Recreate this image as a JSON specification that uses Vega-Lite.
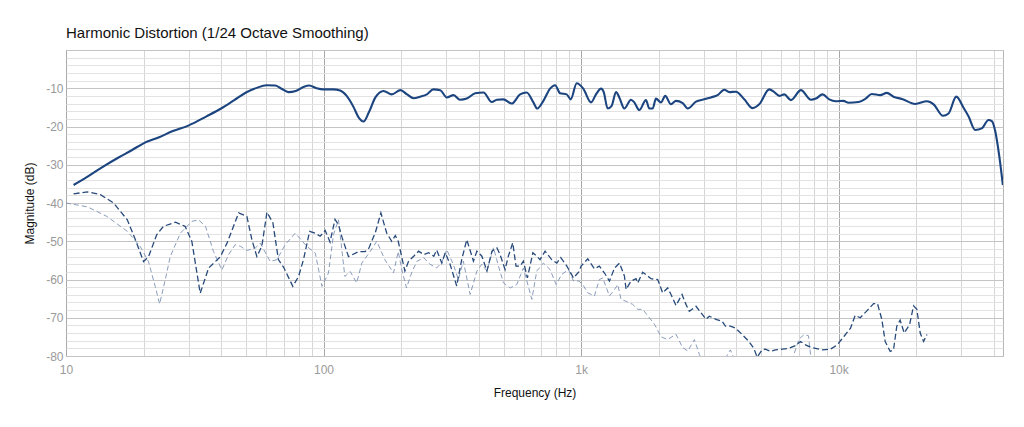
{
  "$schema": "https://vega.github.io/schema/vega-lite/v6.json",
  "autosize": {"type": "none"},
  "padding": {"left": 66, "top": 50, "right": 21, "bottom": 71},
  "width": 937,
  "height": 306,
  "title": {
    "text": "Harmonic Distortion (1/24 Octave Smoothing)",
    "anchor": "start",
    "frame": "group",
    "font": "Liberation Sans",
    "fontSize": 15,
    "fontWeight": "normal",
    "color": "#111111",
    "offset": 3
  },
  "config": {
    "view": {"stroke": "#b5b5b5", "strokeWidth": 1},
    "font": "Liberation Sans"
  },
  "datasets": {
    "fund": [
      {"f": 10.7, "db": -35.3}, {"f": 12, "db": -33.3}, {"f": 14, "db": -30.4}, {"f": 16, "db": -28.1},
      {"f": 18, "db": -26.2}, {"f": 20, "db": -24.4}, {"f": 23, "db": -22.8}, {"f": 26, "db": -21.2},
      {"f": 30, "db": -19.7}, {"f": 35, "db": -17.4}, {"f": 40, "db": -15.3}, {"f": 45, "db": -13.1},
      {"f": 50, "db": -11.1}, {"f": 55, "db": -9.9}, {"f": 60, "db": -9.2}, {"f": 65, "db": -9.3},
      {"f": 69, "db": -10.2}, {"f": 73, "db": -11.0}, {"f": 78, "db": -10.7}, {"f": 84, "db": -9.6},
      {"f": 88, "db": -9.3}, {"f": 94, "db": -10.0}, {"f": 100, "db": -10.3}, {"f": 109, "db": -10.3},
      {"f": 116, "db": -10.6}, {"f": 123, "db": -12}, {"f": 131, "db": -15}, {"f": 137, "db": -17.7},
      {"f": 143, "db": -18.7}, {"f": 150, "db": -16.3}, {"f": 159, "db": -12.4}, {"f": 171, "db": -10.7},
      {"f": 184, "db": -11.6}, {"f": 199, "db": -10.5}, {"f": 211, "db": -11.6}, {"f": 224, "db": -12.6},
      {"f": 237, "db": -12.2}, {"f": 252, "db": -11.6}, {"f": 267, "db": -10.3}, {"f": 284, "db": -10.5},
      {"f": 301, "db": -12.4}, {"f": 320, "db": -11.8}, {"f": 339, "db": -13}, {"f": 360, "db": -12.7},
      {"f": 388, "db": -11.3}, {"f": 418, "db": -11.1}, {"f": 450, "db": -13.6}, {"f": 471, "db": -13},
      {"f": 499, "db": -12.9}, {"f": 538, "db": -14}, {"f": 580, "db": -11.6}, {"f": 615, "db": -11.1},
      {"f": 653, "db": -13.7}, {"f": 676, "db": -15.3}, {"f": 714, "db": -13.3}, {"f": 758, "db": -10.1},
      {"f": 793, "db": -9.2}, {"f": 829, "db": -11.3}, {"f": 879, "db": -11.6}, {"f": 912, "db": -12.9},
      {"f": 962, "db": -8.7}, {"f": 1020, "db": -10.1}, {"f": 1094, "db": -13.7}, {"f": 1143, "db": -11.6},
      {"f": 1196, "db": -10.1}, {"f": 1225, "db": -11}, {"f": 1268, "db": -15.3}, {"f": 1315, "db": -14.6},
      {"f": 1367, "db": -11}, {"f": 1408, "db": -12.4}, {"f": 1472, "db": -15.3}, {"f": 1563, "db": -13},
      {"f": 1610, "db": -13.7}, {"f": 1683, "db": -15.7}, {"f": 1786, "db": -13.1}, {"f": 1841, "db": -15.3},
      {"f": 1897, "db": -15.3}, {"f": 1954, "db": -12.7}, {"f": 2043, "db": -13.7}, {"f": 2123, "db": -12},
      {"f": 2234, "db": -14.2}, {"f": 2337, "db": -13.3}, {"f": 2481, "db": -13.9}, {"f": 2596, "db": -15.3},
      {"f": 2795, "db": -13.5}, {"f": 3010, "db": -12.9}, {"f": 3194, "db": -12.4}, {"f": 3392, "db": -11.8},
      {"f": 3600, "db": -10.4}, {"f": 3765, "db": -11}, {"f": 3993, "db": -10.9}, {"f": 4303, "db": -12.9},
      {"f": 4637, "db": -15.2}, {"f": 4920, "db": -14.2}, {"f": 5381, "db": -10.3}, {"f": 5627, "db": -11},
      {"f": 5888, "db": -12}, {"f": 6152, "db": -11.6}, {"f": 6530, "db": -13.1}, {"f": 7142, "db": -10.5},
      {"f": 7806, "db": -13}, {"f": 8165, "db": -12.7}, {"f": 8664, "db": -11.6}, {"f": 9197, "db": -12.9},
      {"f": 9754, "db": -13.4}, {"f": 10450, "db": -13.3}, {"f": 10930, "db": -13.8}, {"f": 11960, "db": -13.6},
      {"f": 12690, "db": -12.8}, {"f": 13460, "db": -11.5}, {"f": 14510, "db": -11.8}, {"f": 15400, "db": -11.2},
      {"f": 16340, "db": -12.2}, {"f": 17620, "db": -12.8}, {"f": 19850, "db": -14.1}, {"f": 22040, "db": -13.4},
      {"f": 23390, "db": -14.2}, {"f": 25430, "db": -17.2}, {"f": 26730, "db": -16.6}, {"f": 28640, "db": -12.2},
      {"f": 30570, "db": -15.1}, {"f": 31990, "db": -17.4}, {"f": 33920, "db": -20.9}, {"f": 35980, "db": -20.5},
      {"f": 38210, "db": -18.3}, {"f": 39360, "db": -18.6}, {"f": 40550, "db": -21.1}, {"f": 42050, "db": -27.6},
      {"f": 43450, "db": -35.3}
    ],
    "h2": [
      {"f": 10.7, "db": -37.6}, {"f": 12.1, "db": -37.1}, {"f": 13.6, "db": -37.8}, {"f": 15.3, "db": -40},
      {"f": 17.3, "db": -44.4}, {"f": 18.6, "db": -49.6}, {"f": 20, "db": -55.3}, {"f": 20.9, "db": -54.1},
      {"f": 22.5, "db": -48.3}, {"f": 23.9, "db": -46.1}, {"f": 26.6, "db": -45}, {"f": 29, "db": -46.1},
      {"f": 30.8, "db": -50}, {"f": 33.2, "db": -63.6}, {"f": 35.8, "db": -57}, {"f": 39.7, "db": -54.1},
      {"f": 42.2, "db": -50.5}, {"f": 46.8, "db": -42.6}, {"f": 50.4, "db": -43.5}, {"f": 52.7, "db": -49.6},
      {"f": 55.1, "db": -54}, {"f": 57.6, "db": -51.3}, {"f": 60.3, "db": -42.4}, {"f": 63.6, "db": -45.2},
      {"f": 66.8, "db": -54.8}, {"f": 70, "db": -56.8}, {"f": 76, "db": -61.8}, {"f": 80, "db": -59.2},
      {"f": 83.6, "db": -54.8}, {"f": 88.3, "db": -47.4}, {"f": 92.9, "db": -47.9}, {"f": 97, "db": -48.7},
      {"f": 101.5, "db": -47.2}, {"f": 106, "db": -50.2}, {"f": 110.8, "db": -44.3}, {"f": 114.4, "db": -45.7},
      {"f": 118, "db": -49}, {"f": 125, "db": -54}, {"f": 137, "db": -52.7}, {"f": 145, "db": -52.7},
      {"f": 150, "db": -51.8}, {"f": 159, "db": -47.7}, {"f": 167, "db": -42.6}, {"f": 176, "db": -47.9},
      {"f": 184, "db": -50}, {"f": 190, "db": -48.5}, {"f": 195, "db": -50}, {"f": 207, "db": -57.8},
      {"f": 214, "db": -55.2}, {"f": 224, "db": -53.9}, {"f": 234, "db": -52.6}, {"f": 245, "db": -53.5},
      {"f": 256, "db": -53}, {"f": 268, "db": -53.9}, {"f": 275, "db": -52.3}, {"f": 288, "db": -55.7},
      {"f": 297, "db": -53}, {"f": 310, "db": -56}, {"f": 329, "db": -61.7}, {"f": 344, "db": -54.8},
      {"f": 360, "db": -49.6}, {"f": 382, "db": -55.2}, {"f": 394, "db": -52.6}, {"f": 412, "db": -53.9},
      {"f": 431, "db": -57.8}, {"f": 451, "db": -52.6}, {"f": 471, "db": -51.7}, {"f": 485, "db": -53.5},
      {"f": 507, "db": -57.4}, {"f": 522, "db": -53.9}, {"f": 543, "db": -50.4}, {"f": 559, "db": -56.5},
      {"f": 580, "db": -56.5}, {"f": 597, "db": -55.2}, {"f": 619, "db": -59.6}, {"f": 650, "db": -53},
      {"f": 673, "db": -53.9}, {"f": 693, "db": -54.8}, {"f": 725, "db": -52.6}, {"f": 769, "db": -54.8},
      {"f": 805, "db": -55.7}, {"f": 834, "db": -54.3}, {"f": 881, "db": -56.5}, {"f": 935, "db": -59.6},
      {"f": 980, "db": -58}, {"f": 1000, "db": -56.5}, {"f": 1062, "db": -54.6}, {"f": 1127, "db": -57.2},
      {"f": 1178, "db": -56.5}, {"f": 1233, "db": -58.3}, {"f": 1289, "db": -60.4}, {"f": 1349, "db": -57},
      {"f": 1410, "db": -55.7}, {"f": 1474, "db": -59.1}, {"f": 1496, "db": -62.6}, {"f": 1564, "db": -60.4},
      {"f": 1635, "db": -59.8}, {"f": 1660, "db": -60.9}, {"f": 1735, "db": -58.1}, {"f": 1815, "db": -59.1},
      {"f": 1870, "db": -59.8}, {"f": 1985, "db": -60}, {"f": 2075, "db": -63.5}, {"f": 2170, "db": -62.2},
      {"f": 2235, "db": -63.9}, {"f": 2337, "db": -66.8}, {"f": 2467, "db": -63.9}, {"f": 2555, "db": -66.5},
      {"f": 2633, "db": -68.3}, {"f": 2795, "db": -67}, {"f": 2923, "db": -68.7}, {"f": 3055, "db": -70.4},
      {"f": 3148, "db": -69.6}, {"f": 3340, "db": -70.4}, {"f": 3530, "db": -70.9}, {"f": 3636, "db": -72.2},
      {"f": 3803, "db": -72.2}, {"f": 3980, "db": -72.7}, {"f": 4224, "db": -74.4}, {"f": 4483, "db": -76.2},
      {"f": 4688, "db": -78}, {"f": 4829, "db": -80.3}, {"f": 5048, "db": -78.4}, {"f": 5200, "db": -78.2},
      {"f": 5440, "db": -78.8}, {"f": 5690, "db": -78.4}, {"f": 6040, "db": -78.2}, {"f": 6410, "db": -78},
      {"f": 6800, "db": -77.3}, {"f": 7110, "db": -76.2}, {"f": 7440, "db": -77.1}, {"f": 7780, "db": -77.7},
      {"f": 8140, "db": -78}, {"f": 8640, "db": -78.4}, {"f": 9310, "db": -78.2}, {"f": 9880, "db": -77.1},
      {"f": 10490, "db": -74.9}, {"f": 11130, "db": -72.7}, {"f": 11600, "db": -69.4}, {"f": 12140, "db": -70},
      {"f": 12880, "db": -68.2}, {"f": 13680, "db": -66.3}, {"f": 14160, "db": -66.3}, {"f": 14720, "db": -70.4},
      {"f": 15170, "db": -76.2}, {"f": 15860, "db": -78.8}, {"f": 16340, "db": -78.4}, {"f": 16830, "db": -72.2},
      {"f": 17340, "db": -70.6}, {"f": 17980, "db": -74}, {"f": 18870, "db": -71.8}, {"f": 19550, "db": -66.9},
      {"f": 20140, "db": -67.8}, {"f": 20750, "db": -74}, {"f": 21380, "db": -76.2}, {"f": 22040, "db": -74.4}
    ],
    "h3": [
      {"f": 10, "db": -40}, {"f": 12.1, "db": -41}, {"f": 14.4, "db": -43.5}, {"f": 17.3, "db": -47.4},
      {"f": 19.4, "db": -51.3}, {"f": 20.9, "db": -55.3}, {"f": 22.2, "db": -61.8}, {"f": 23.1, "db": -66.4},
      {"f": 24.3, "db": -60}, {"f": 25.4, "db": -54}, {"f": 27.8, "db": -47.9}, {"f": 30.8, "db": -44.8},
      {"f": 32.7, "db": -44.4}, {"f": 34.8, "db": -46.1}, {"f": 37.4, "db": -52.7}, {"f": 40.3, "db": -57.5},
      {"f": 42.8, "db": -53.5}, {"f": 45.4, "db": -50.9}, {"f": 47.5, "db": -51.3}, {"f": 50.4, "db": -52.4},
      {"f": 54.3, "db": -51.8}, {"f": 56.8, "db": -50.5}, {"f": 62.1, "db": -55.3}, {"f": 65.9, "db": -54.8},
      {"f": 71, "db": -50.9}, {"f": 77.6, "db": -47.9}, {"f": 86.1, "db": -51.3}, {"f": 92.9, "db": -53.1},
      {"f": 98.6, "db": -61.8}, {"f": 104.5, "db": -58.3}, {"f": 109.3, "db": -48.3}, {"f": 114.3, "db": -44.4},
      {"f": 121, "db": -59.2}, {"f": 126.9, "db": -57.9}, {"f": 134.6, "db": -60.9}, {"f": 140.8, "db": -55.7},
      {"f": 151.7, "db": -52.7}, {"f": 161, "db": -50}, {"f": 173, "db": -54.8}, {"f": 187, "db": -58.3},
      {"f": 195, "db": -52.7}, {"f": 202, "db": -57.8}, {"f": 210, "db": -62.2}, {"f": 221, "db": -57.8},
      {"f": 231, "db": -55.2}, {"f": 245, "db": -54.3}, {"f": 259, "db": -56}, {"f": 275, "db": -57},
      {"f": 288, "db": -55.5}, {"f": 301, "db": -52.2}, {"f": 319, "db": -56}, {"f": 334, "db": -60},
      {"f": 349, "db": -55.2}, {"f": 371, "db": -63.9}, {"f": 394, "db": -57.8}, {"f": 412, "db": -56},
      {"f": 431, "db": -57.8}, {"f": 457, "db": -51.7}, {"f": 478, "db": -56.5}, {"f": 500, "db": -60.9},
      {"f": 531, "db": -62.2}, {"f": 563, "db": -61.3}, {"f": 597, "db": -57}, {"f": 644, "db": -65.2},
      {"f": 673, "db": -57.8}, {"f": 714, "db": -55.7}, {"f": 758, "db": -57.4}, {"f": 800, "db": -61.3},
      {"f": 841, "db": -58.7}, {"f": 893, "db": -57.4}, {"f": 935, "db": -60.4}, {"f": 980, "db": -60.4},
      {"f": 1015, "db": -61.3}, {"f": 1062, "db": -63.5}, {"f": 1127, "db": -64.3}, {"f": 1178, "db": -60},
      {"f": 1214, "db": -59.6}, {"f": 1289, "db": -64.3}, {"f": 1349, "db": -62.6}, {"f": 1388, "db": -61.3},
      {"f": 1430, "db": -65.2}, {"f": 1496, "db": -65.7}, {"f": 1586, "db": -66.5}, {"f": 1660, "db": -67.8},
      {"f": 1735, "db": -67.8}, {"f": 1842, "db": -70}, {"f": 1928, "db": -71.7}, {"f": 2046, "db": -75},
      {"f": 2170, "db": -75.7}, {"f": 2337, "db": -74.3}, {"f": 2480, "db": -77.8}, {"f": 2596, "db": -78.7},
      {"f": 2755, "db": -75.7}, {"f": 2880, "db": -79.6}, {"f": 3000, "db": -82}, {"f": 3300, "db": -85},
      {"f": 3600, "db": -81}, {"f": 3800, "db": -78.4}, {"f": 3950, "db": -81}, {"f": 4300, "db": -85},
      {"f": 4800, "db": -87}, {"f": 5300, "db": -86}, {"f": 6000, "db": -84}, {"f": 6600, "db": -81},
      {"f": 6800, "db": -78.4}, {"f": 7020, "db": -75.6}, {"f": 7340, "db": -74.4}, {"f": 7640, "db": -74.7},
      {"f": 7800, "db": -80.2}, {"f": 8100, "db": -84}, {"f": 9000, "db": -82}, {"f": 9500, "db": -80.5},
      {"f": 10500, "db": -86}, {"f": 12000, "db": -88}, {"f": 14500, "db": -90}
    ]
  },
  "encoding": {
    "x": {
      "field": "f",
      "type": "quantitative",
      "scale": {"type": "log", "domain": [10, 43500], "nice": false},
      "axis": {
        "title": "Frequency (Hz)",
        "titleFont": "Liberation Sans",
        "titleFontSize": 12,
        "titleFontWeight": "normal",
        "titleColor": "#111111",
        "titlePadding": 12,
        "values": [10, 20, 30, 40, 50, 60, 70, 80, 90, 100, 200, 300, 400, 500, 600, 700, 800, 900, 1000, 2000, 3000, 4000, 5000, 6000, 7000, 8000, 9000, 10000, 20000, 30000, 40000],
        "labelExpr": "datum.value == 10 ? '10' : datum.value == 100 ? '100' : datum.value == 1000 ? '1k' : datum.value == 10000 ? '10k' : ''",
        "labelColor": "#9a9a9a",
        "labelFontSize": 12,
        "labelPadding": 8,
        "labelFlush": false,
        "labelOverlap": false,
        "ticks": false,
        "domain": false,
        "gridColor": {"condition": {"test": "datum.value == 10 || datum.value == 100 || datum.value == 1000 || datum.value == 10000", "value": "#a8a8a8"}, "value": "#d6d6d6"}
      }
    },
    "y": {
      "field": "db",
      "type": "quantitative",
      "scale": {"domain": [-80, 0], "nice": false},
      "axis": {
        "title": "Magnitude (dB)",
        "titleFont": "Liberation Sans",
        "titleFontSize": 12,
        "titleFontWeight": "normal",
        "titleColor": "#111111",
        "titlePadding": 9,
        "values": [-80, -78, -76, -74, -72, -70, -68, -66, -64, -62, -60, -58, -56, -54, -52, -50, -48, -46, -44, -42, -40, -38, -36, -34, -32, -30, -28, -26, -24, -22, -20, -18, -16, -14, -12, -10, -8, -6, -4, -2, 0],
        "labelExpr": "datum.value % 10 == 0 && datum.value != 0 ? '' + datum.value : ''",
        "labelColor": "#9a9a9a",
        "labelFontSize": 12,
        "labelPadding": 3,
        "labelOverlap": false,
        "labelFlush": false,
        "ticks": false,
        "domain": false,
        "gridColor": {"condition": {"test": "datum.value % 10 == 0", "value": "#c4c4c4"}, "value": "#e3e3e3"}
      }
    }
  },
  "layer": [
    {
      "data": {"name": "h3"},
      "mark": {"type": "line", "clip": true, "color": "#7d91b3", "strokeWidth": 0.9, "strokeDash": [5, 3]}
    },
    {
      "data": {"name": "h2"},
      "mark": {"type": "line", "clip": true, "color": "#274a7a", "strokeWidth": 1.3, "strokeDash": [6, 3]}
    },
    {
      "data": {"name": "fund"},
      "mark": {"type": "line", "clip": true, "color": "#1c4580", "strokeWidth": 2.1, "interpolate": "monotone"}
    }
  ]
}
